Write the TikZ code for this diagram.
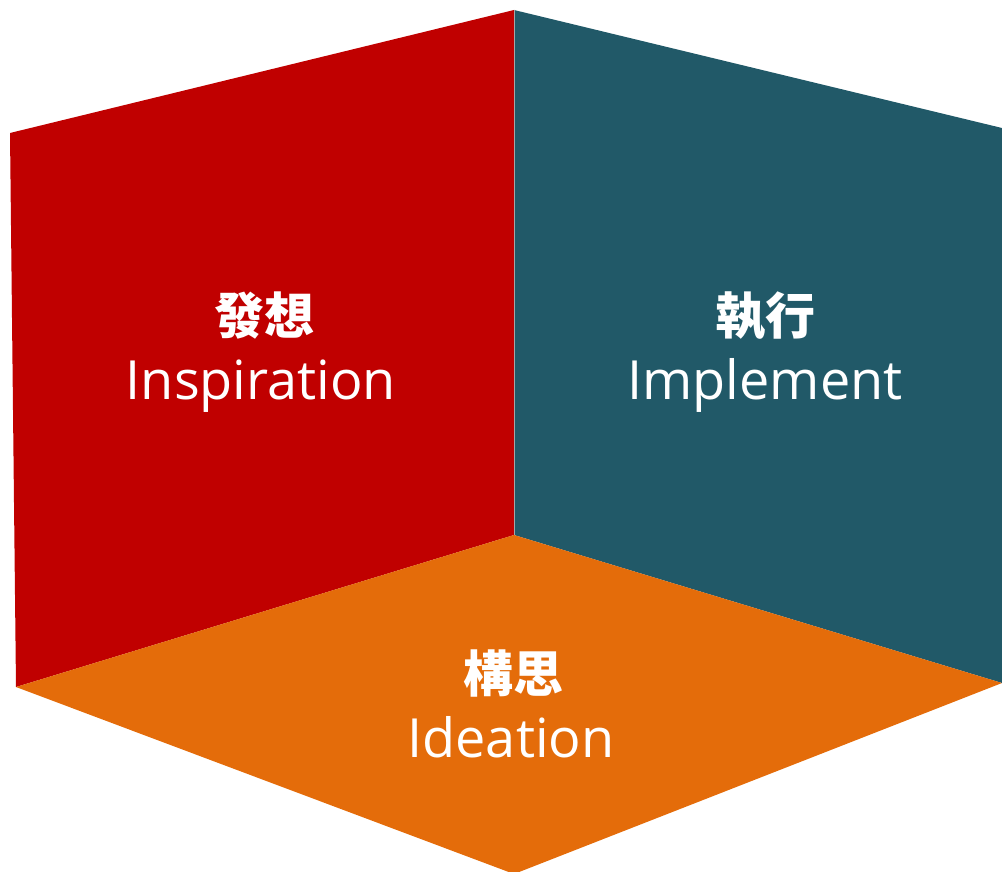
\documentclass[tikz,border=0pt]{standalone}
\usepackage{fontspec}
\setmainfont{Open Sans}
\newfontfamily\cjk{Noto Sans CJK TC}
\definecolor{cred}{HTML}{C00000}
\definecolor{cteal}{HTML}{215968}
\definecolor{corange}{HTML}{E46C0A}
\begin{document}
\begin{tikzpicture}[x=1pt,y=-1pt,
  zh/.style={text=white,font=\cjk\bfseries\fontsize{50}{54}\selectfont,inner sep=0pt},
  en/.style={text=white,font=\fontsize{54}{60}\selectfont,inner sep=0pt}]
\useasboundingbox (0,0) rectangle (1002,872);
\coordinate (tl) at (10,133);
\coordinate (top) at (514,10);
\coordinate (tr) at (1002,128);
\coordinate (bl) at (16,687);
\coordinate (c) at (514,535);
\coordinate (br) at (1002,683);
\coordinate (bot) at (514,874);
\fill[cred] (tl) -- (top) -- (c) -- (bl) -- cycle;
\fill[cteal] (top) -- (tr) -- (br) -- (c) -- cycle;
\fill[corange] (bl) -- (c) -- (br) -- (bot) -- cycle;
\draw[gray!70, line width=1pt] (top) -- (c);
\node[zh] (z1) at (264,316) {發想};
\node[en,anchor=base] (e1) at (261,399) {Inspiration};
\node[zh] (z2) at (765,316) {執行};
\node[en,anchor=base] (e2) at (765,399) {Implement};
\node[zh] (z3) at (513,673) {構思};
\node[en,anchor=base] (e3) at (511,757) {Ideation};
\end{tikzpicture}
\end{document}
